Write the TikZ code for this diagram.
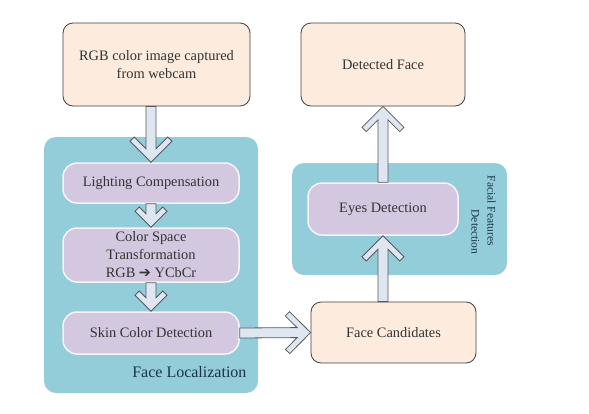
\documentclass[tikz,border=0pt]{standalone}
\usepackage{fontspec}
\setmainfont{Liberation Serif}
\newfontfamily\dejavu{DejaVu Sans}
\usetikzlibrary{calc}
\definecolor{peach}{RGB}{253,236,222}
\definecolor{aqua}{RGB}{147,205,218}
\definecolor{lilac}{RGB}{212,200,224}
\definecolor{arrowfill}{RGB}{222,230,242}
\definecolor{navy}{RGB}{25,52,72}
\tikzset{
  peachbox/.style={draw=black!75,fill=peach,rounded corners=10pt,line width=.8pt,
    text=black!80,align=center,font=\fontsize{14.4}{18}\selectfont},
  lilacbox/.style={draw=white!80!lilac,fill=lilac,rounded corners=14pt,line width=1.5pt,
    text=black!80,align=center,font=\fontsize{14.4}{18}\selectfont},
  groupbox/.style={fill=aqua,rounded corners=12pt},
  flowarrow/.style={draw=black!65,fill=arrowfill,line width=.8pt,line join=miter}
}
% hollow block arrow from #2 to #3, #1 = half width of the head
\newcommand{\hollowarrow}[3][21]{%
  \pgfmathsetmacro\arrhw{#1}%
  \pgfmathsetmacro\arrhu{#1+4.24}%
  \pgfmathsetmacro\arrhv{#1-4.24}%
  \draw[flowarrow] ($(#2)!5pt!-90:(#3)$)
    -- ($(#3)!13.5pt!(#2)!5pt!90:(#2)$)
    -- ($(#3)!\arrhu pt!(#2)!\arrhv pt!90:(#2)$)
    -- ($(#3)!\arrhw pt!(#2)!\arrhw pt!90:(#2)$)
    -- (#3)
    -- ($(#3)!\arrhw pt!(#2)!\arrhw pt!-90:(#2)$)
    -- ($(#3)!\arrhu pt!(#2)!\arrhv pt!-90:(#2)$)
    -- ($(#3)!13.5pt!(#2)!5pt!-90:(#2)$)
    -- ($(#2)!5pt!90:(#3)$) -- cycle;}
\begin{document}
\begin{tikzpicture}[x=1pt,y=-1pt]
  \useasboundingbox (0,0) rectangle (589,413);
  % groups
  \node[groupbox,minimum width=214pt,minimum height=256pt] (loc) at (151,265) {};
  \node[groupbox,minimum width=215pt,minimum height=112pt] (ffd) at (399.5,219) {};
  \node[text=navy,font=\fontsize{16}{19}\selectfont,anchor=east] (loclabel) at (250,372) {Face Localization};
  \node[text=navy,font=\fontsize{11.5}{16}\selectfont,rotate=-90,align=left] (ffdlabel) at (483.5,215)
    {Facial Features\\\hspace*{34pt}Detection};
  % boxes
  \node[peachbox,minimum width=187pt,minimum height=83pt] (rgb) at (156.5,64.5)
    {RGB color image captured\\from webcam};
  \node[peachbox,minimum width=164pt,minimum height=83pt] (det) at (383,64.5) {Detected Face};
  \node[lilacbox,minimum width=176pt,minimum height=40pt] (lc) at (151,183) {Lighting Compensation};
  \node[lilacbox,minimum width=176pt,minimum height=54pt] (cst) at (151,255)
    {Color Space\\Transformation\\RGB {\dejavu ➔} YCbCr};
  \node[lilacbox,minimum width=176pt,minimum height=42pt] (scd) at (151,333) {Skin Color Detection};
  \node[lilacbox,minimum width=150pt,minimum height=52pt] (eyes) at (383,209) {Eyes Detection};
  \node[peachbox,minimum width=165pt,minimum height=61pt] (fc) at (393.5,332.5) {Face Candidates};
  % arrows
  \coordinate (rgbout) at (lc.north |- rgb.south);
  \coordinate (fcout) at (eyes.south |- fc.north);
  \hollowarrow{rgbout}{lc.north}
  \hollowarrow[16]{lc.south}{cst.north}
  \hollowarrow[16]{cst.south}{scd.north}
  \hollowarrow{scd.east}{fc.west}
  \hollowarrow{fcout}{eyes.south}
  \hollowarrow{eyes.north}{det.south}
\end{tikzpicture}
\end{document}
